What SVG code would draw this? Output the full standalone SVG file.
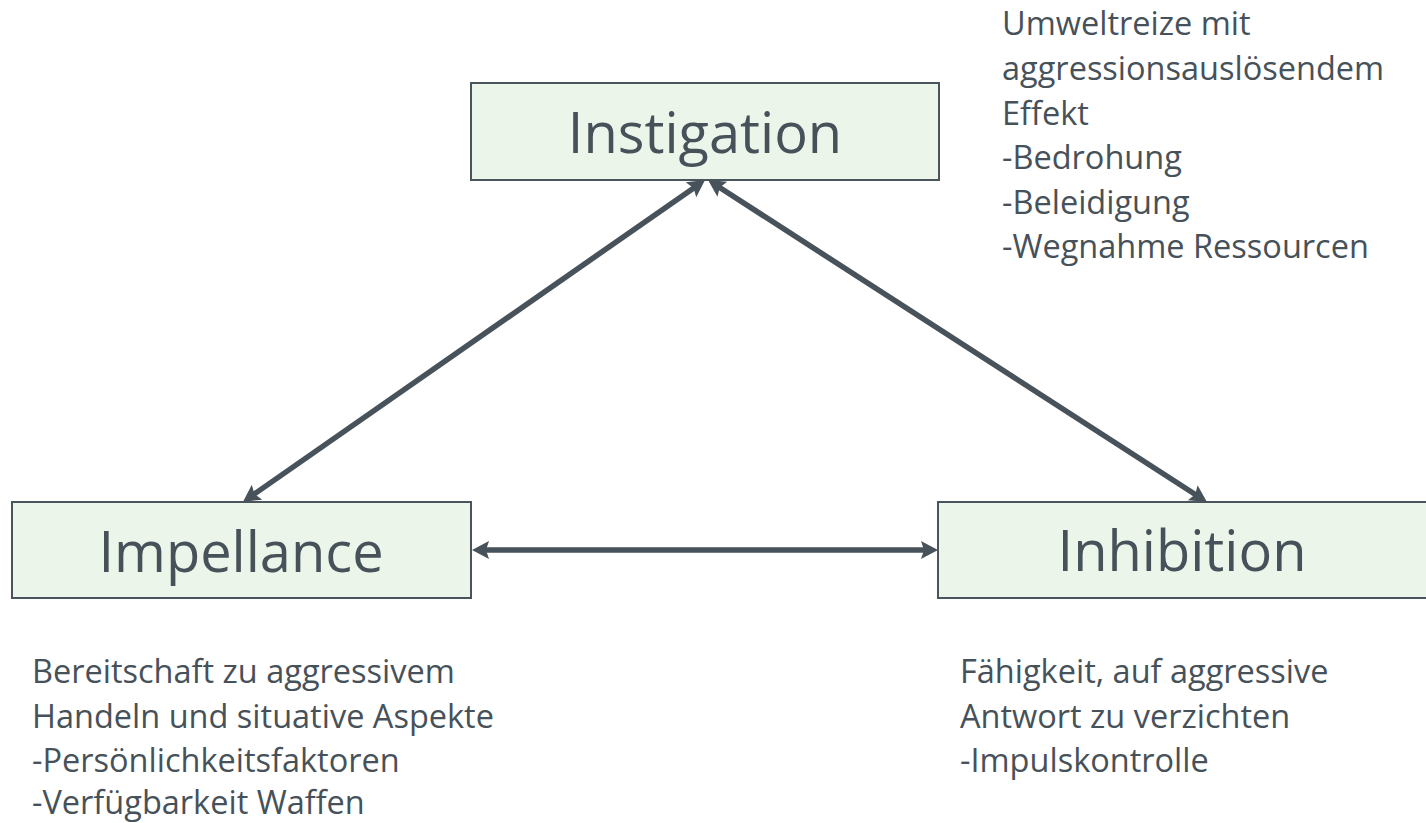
<svg xmlns="http://www.w3.org/2000/svg" width="1426" height="823" viewBox="0 0 1426 823">
<style>
.box{fill:#EBF5EA;stroke:#4A545C;stroke-width:2}
.lbl{font-family:"Open Sans","Noto Sans","Liberation Sans",sans-serif;font-size:56px;fill:#465159;text-anchor:middle}
.txt{font-family:"Open Sans","Noto Sans","Liberation Sans",sans-serif;font-size:32.5px;fill:#465159}
.con{stroke:#47525A;stroke-width:5.5;fill:none;marker-start:url(#ah);marker-end:url(#ah)}
</style>
<defs>
<marker id="ah" markerUnits="userSpaceOnUse" markerWidth="20" markerHeight="20" refX="5" refY="9" orient="auto-start-reverse">
<path d="M0,0 L17,9 L0,18 L3,9 z" fill="#47525A"/>
</marker>
</defs>
<rect width="1426" height="823" fill="#FFFFFF"/>
<g id="connectors">
<line class="con" x1="695.2" y1="186.9" x2="252.8" y2="495.1"/>
<line class="con" x1="718.1" y1="186.5" x2="1196.9" y2="495.5"/>
<line class="con" x1="484" y1="550" x2="926" y2="550"/>
</g>
<g id="instigation">
<rect class="box" x="471" y="83" width="468" height="97"/>
<text class="lbl" x="705" y="153">Instigation</text>
</g>
<g id="impellance">
<rect class="box" x="12" y="502" width="459" height="96"/>
<text class="lbl" x="241" y="572">Impellance</text>
</g>
<g id="inhibition">
<rect class="box" x="938" y="502" width="500" height="96"/>
<text class="lbl" x="1182" y="571">Inhibition</text>
</g>
<g id="instigation-note">
<text class="txt" x="1002" y="35">Umweltreize mit</text>
<text class="txt" x="1002" y="80">aggressionsauslösendem</text>
<text class="txt" x="1002" y="125">Effekt</text>
<text class="txt" x="1002" y="169">-Bedrohung</text>
<text class="txt" x="1002" y="214">-Beleidigung</text>
<text class="txt" x="1002" y="258">-Wegnahme Ressourcen</text>
</g>
<g id="impellance-note">
<text class="txt" x="32" y="683">Bereitschaft zu aggressivem</text>
<text class="txt" x="32" y="728">Handeln und situative Aspekte</text>
<text class="txt" x="32" y="772">-Persönlichkeitsfaktoren</text>
<text class="txt" x="32" y="814">-Verfügbarkeit Waffen</text>
</g>
<g id="inhibition-note">
<text class="txt" x="960" y="683">Fähigkeit, auf aggressive</text>
<text class="txt" x="960" y="728">Antwort zu verzichten</text>
<text class="txt" x="960" y="772">-Impulskontrolle</text>
</g>
</svg>
